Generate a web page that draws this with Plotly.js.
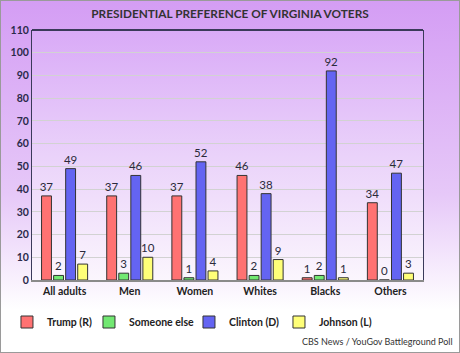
<!DOCTYPE html>
<html><head><meta charset="utf-8">
<script src="https://cdn.plot.ly/plotly-3.0.1.min.js"></script>
<style>
html,body{margin:0;padding:0;}
#wrap{position:relative;width:460px;height:353px;background:linear-gradient(to bottom,#d49df4 0%,#e6c8f8 55%,#ffffff 88%);}
#pbg{position:absolute;left:32px;top:30px;width:391px;height:250px;background:linear-gradient(to bottom,#d9aaf7 0%,#ead2fa 50%,#fbf6fd 100%);}
#chart{position:absolute;left:0;top:0;width:460px;height:353px;}
#frame{position:absolute;left:0;top:0;width:460px;height:353px;box-sizing:border-box;border:1px solid #9a9a9a;pointer-events:none;}
</style></head>
<body>
<div id="wrap"><div id="pbg"></div><div id="chart"></div><div id="frame"></div></div>
<script>
const categories = ["All adults","Men","Women","Whites","Blacks","Others"];
const trump = [37,37,37,46,1,34];
const someoneElse = [2,3,1,2,2,0];
const clinton = [49,46,52,38,92,47];
const johnson = [7,10,4,9,1,3];
const seriesNames = ["Trump (R)","Someone else","Clinton (D)","Johnson (L)"];
const yTicks = [0,10,20,30,40,50,60,70,80,90,100,110];

const FONT = "Lato";
const colors = ["#ff7272","#72e872","#6464f2","#ffff78"];
const legendWidths = [37,55,45,64];
const data = [trump, someoneElse, clinton, johnson].map((vals,i)=>({
  type:"bar", name:seriesNames[i], x:categories, y:vals,
  text:vals.map(String), textposition:"outside", cliponaxis:false, constraintext:"none",
  textfont:{family:FONT, size:11.5, color:"#2a2a3a"},
  legendwidth:legendWidths[i],
  marker:{color:colors[i], line:{color:"#333333", width:1}}
}));

const layout = {
  width:460, height:353,
  margin:{l:32, r:37, t:30, b:73, autoexpand:false},
  paper_bgcolor:"rgba(0,0,0,0)", plot_bgcolor:"rgba(0,0,0,0)",
  font:{family:FONT, size:11, color:"#222"},
  title:{text:"PRESIDENTIAL PREFERENCE OF VIRGINIA VOTERS", font:{family:FONT, size:11.8, color:"#333", weight:"bold"},
    x:0.5, xanchor:"center", yref:"container", y:0.962, yanchor:"middle"},
  barmode:"group", bargap:0.26, bargroupgap:0.18,
  xaxis:{showgrid:false, showline:true, linecolor:"#8a8a8a", linewidth:2, ticks:"", tickangle:0,
    tickfont:{family:FONT, size:10.5, color:"#222", weight:"bold"}, fixedrange:true, automargin:false},
  yaxis:{range:[0,110], tickvals:yTicks, ticktext:yTicks.map(String), automargin:false,
    showgrid:true, gridcolor:"#d2d2d2", gridwidth:1, zeroline:false,
    showline:true, mirror:true, linecolor:"#3a3a5a", linewidth:1, ticks:"",
    tickfont:{family:FONT, size:10.5, color:"#2a2a4a", weight:"bold"}},
  showlegend:true,
  legend:{orientation:"h", x:-0.064, xanchor:"left", y:-0.168, yanchor:"middle",
    font:{family:FONT, size:10.5, color:"#222", weight:"bold"}, itemwidth:30, bgcolor:"rgba(0,0,0,0)"},
  shapes:[{type:"line", xref:"paper", yref:"paper", x0:0, x1:1, y0:1, y1:1, line:{color:"#3a3a5a", width:2}}],
  annotations:[{text:"CBS News / YouGov Battleground Poll", xref:"paper", yref:"paper", x:1.082, xanchor:"right",
    y:-0.244, yanchor:"middle", showarrow:false, font:{family:FONT, size:9, color:"#333"}}]
};
Plotly.newPlot("chart", data, layout, {displayModeBar:false, staticPlot:true});
</script>
</body></html>
